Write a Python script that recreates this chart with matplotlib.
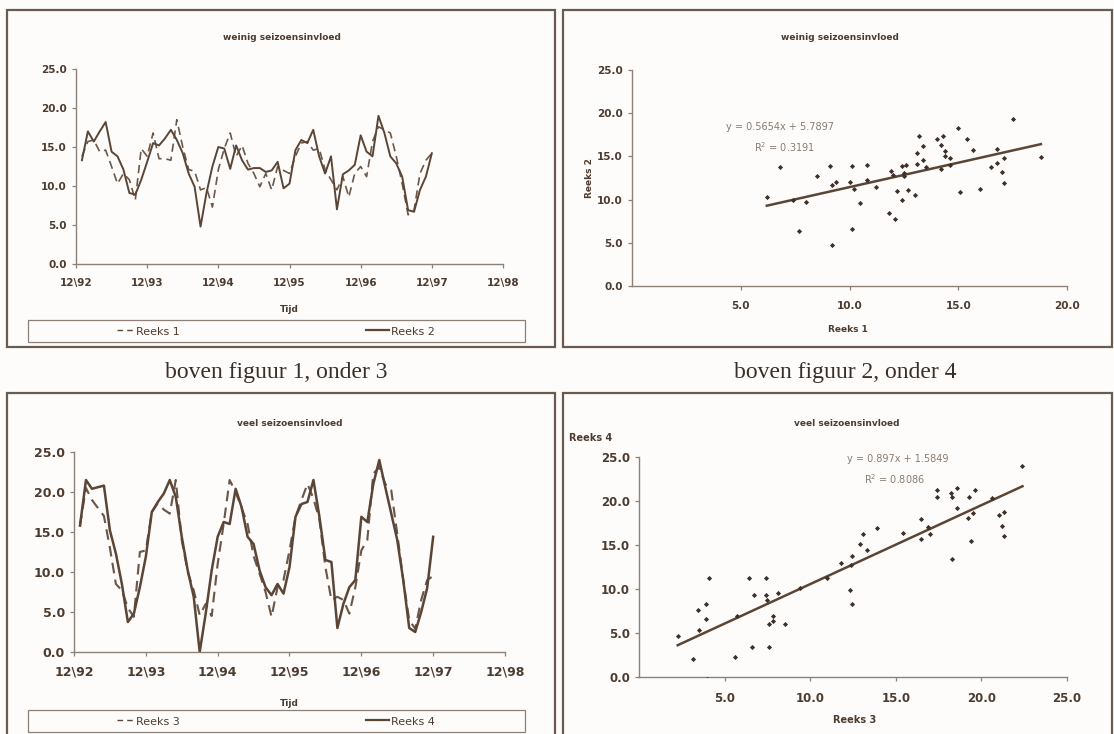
import numpy as np
import matplotlib
matplotlib.use("Agg")
import matplotlib.pyplot as plt
from matplotlib.patches import Rectangle
from matplotlib.lines import Line2D

# ---------------- data ----------------
tick_labels = ["12\\92", "12\\93", "12\\94", "12\\95", "12\\96", "12\\97", "12\\98"]

reeks1 = [13.8, 15.7, 15.9, 14.4, 14.6, 12.5, 10.3, 11.6, 10.8, 8.2,
          14.8, 13.8, 16.8, 13.5, 13.5, 13.3, 18.5, 15.0, 12.1, 11.9,
          9.5, 9.8, 7.3, 12.1, 14.8, 16.8, 13.8, 15.2, 12.9, 11.6,
          9.9, 11.6, 9.5, 12.5, 12.0, 11.6, 13.8, 15.5, 15.7, 14.6,
          14.8, 12.1, 10.8, 9.5, 11.2, 8.6, 11.6, 12.5, 11.2, 15.7,
          17.6, 17.2, 16.8, 13.8, 10.3, 6.3, 6.9, 11.6, 13.3, 14.2]
reeks2 = [13.3, 17.0, 15.7, 17.0, 18.2, 14.4, 13.8, 12.1, 9.1, 8.9,
          10.8, 13.1, 15.5, 15.2, 16.1, 17.2, 15.9, 14.2, 11.6, 9.9,
          4.8, 9.1, 12.5, 15.0, 14.8, 12.2, 15.2, 13.3, 12.1, 12.3,
          12.3, 11.8, 12.0, 13.1, 9.7, 10.3, 14.6, 15.9, 15.5, 17.2,
          13.8, 11.6, 13.8, 7.0, 11.5, 12.0, 12.7, 16.5, 14.4, 13.8,
          19.0, 16.8, 13.8, 12.9, 11.2, 6.9, 6.7, 9.5, 11.2, 14.2]
reeks3 = [15.8, 20.5, 19.0, 18.0, 17.0, 13.0, 8.5, 7.7, 5.5, 4.4,
          12.5, 12.7, 17.5, 18.6, 17.8, 17.3, 21.5, 14.0, 10.0, 7.7,
          4.6, 6.0, 4.5, 11.0, 16.0, 21.5, 20.0, 18.0, 16.0, 12.0,
          9.8, 7.5, 4.4, 8.1, 9.0, 12.7, 16.9, 19.0, 21.0, 19.2,
          16.5, 10.6, 6.5, 6.9, 6.5, 4.8, 8.1, 12.7, 14.0, 22.3,
          23.1, 21.0, 20.2, 14.8, 9.0, 4.0, 2.9, 6.5, 9.0, 9.5]
reeks4 = [15.8, 21.5, 20.4, 20.6, 20.8, 15.2, 12.3, 8.5, 3.75, 4.8,
          8.1, 11.9, 17.5, 18.75, 19.8, 21.5, 19.4, 14.4, 10.2, 6.9,
          0.0, 4.8, 10.2, 14.4, 16.25, 16.0, 20.4, 18.1, 14.4, 13.5,
          10.2, 8.1, 7.1, 8.5, 7.3, 10.6, 16.9, 18.5, 18.75, 21.5,
          16.9, 11.5, 11.25, 3.0, 6.0, 8.1, 9.0, 16.9, 16.25, 21.0,
          24.0, 20.6, 17.3, 14.0, 9.0, 3.0, 2.5, 5.0, 8.0, 14.4]

scat1_x = [6.2, 6.8, 7.4, 7.7, 8.0, 8.5, 9.1, 9.2, 9.2, 9.4, 10.0, 10.1, 10.1, 10.2, 10.5,
           10.8, 10.8, 11.2, 11.8, 11.9, 12.0, 12.1, 12.2, 12.4, 12.4, 12.5, 12.5, 12.6,
           12.7, 13.0, 13.1, 13.1, 13.2, 13.4, 13.4, 13.5, 14.0, 14.2, 14.2, 14.3, 14.4,
           14.4, 14.6, 14.6, 15.0, 15.1, 15.4, 15.7, 16.0, 16.5, 16.8, 16.8, 17.0, 17.1,
           17.1, 17.5, 18.8]
scat1_y = [10.3, 13.8, 9.9, 6.4, 9.7, 12.7, 13.9, 11.7, 4.7, 12.0, 12.0, 13.9, 6.6, 11.2, 9.6,
           12.3, 14.0, 11.5, 8.5, 13.3, 12.9, 7.7, 11.0, 13.9, 10.0, 13.1, 12.7, 14.0,
           11.1, 10.5, 15.4, 14.1, 17.4, 16.2, 14.6, 13.8, 17.0, 16.3, 13.5, 17.4, 15.6,
           15.1, 14.0, 14.8, 18.3, 10.9, 17.0, 15.7, 11.2, 13.8, 15.9, 14.2, 13.2, 11.9,
           14.8, 19.3, 14.9]
scat2_x = [2.26, 3.15, 3.45, 3.5, 3.9, 3.9, 4.0, 4.1, 5.6, 5.7, 6.4, 6.6, 6.7, 7.4, 7.4, 7.5,
           7.6, 7.6, 7.8, 7.85, 8.1, 8.5, 9.4, 11.0, 11.8, 12.3, 12.4, 12.45, 12.45, 12.9,
           13.1, 13.3, 13.9, 15.4, 16.5, 16.5, 16.9, 17.0, 17.4, 17.4, 18.2, 18.3, 18.3,
           18.55, 18.6, 19.2, 19.3, 19.4, 19.5, 19.6, 20.6, 21.0, 21.2, 21.3, 21.3, 22.4]
scat2_y = [4.7, 2.05, 7.65, 5.3, 8.3, 6.6, -0.2, 11.2, 2.3, 6.9, 11.2, 3.4, 9.3, 9.3, 11.2, 8.8,
           6.0, 3.4, 6.9, 6.4, 9.6, 6.0, 10.1, 11.3, 12.9, 9.85, 12.7, 8.3, 13.8, 15.1,
           16.2, 14.4, 16.9, 16.4, 18.0, 15.7, 17.1, 16.3, 21.3, 20.5, 20.9, 20.4, 13.4,
           21.5, 19.2, 18.1, 20.4, 15.5, 18.6, 21.2, 20.3, 18.4, 17.2, 18.8, 16.0, 24.0]

fit1 = (0.5654, 5.7897)
fit2 = (0.897, 1.5849)
fit1_text = ("y = 0.5654x + 5.7897", "R$^2$ = 0.3191")
fit2_text = ("y = 0.897x + 1.5849", "R$^2$ = 0.8086")

# ---------------- style ----------------
W, H = 1114, 734
INK = "#5a4536"
TXT = "#4d3b2f"
GRAY = "#8a7b70"
plt.rcParams["font.family"] = ["DejaVu Sans"]

fig = plt.figure(figsize=(W / 100, H / 100), dpi=100)
fig.patch.set_facecolor("#fdfcfa")


def rect(x0, y0, x1, y1):
    return [x0 / W, 1 - y1 / H, (x1 - x0) / W, (y1 - y0) / H]


def fx(x):
    return x / W


def fy(y):
    return 1 - y / H


def box(x0, y0, x1, y1, lw=1.6, color="#6b5a50"):
    fig.add_artist(Rectangle((fx(x0), fy(y1)), (x1 - x0) / W, (y1 - y0) / H,
                             transform=fig.transFigure, fill=False,
                             edgecolor=color, linewidth=lw))


def style_axes(ax, fs, weight="bold"):
    for s in ("top", "right"):
        ax.spines[s].set_visible(False)
    for s in ("left", "bottom"):
        ax.spines[s].set_color("#8c8078")
        ax.spines[s].set_linewidth(1.0)
    ax.tick_params(axis="both", colors="#8c8078", labelcolor=TXT, labelsize=fs,
                   length=3, width=0.9, direction="out")
    for lab in ax.get_xticklabels() + ax.get_yticklabels():
        lab.set_fontweight(weight)
    ax.set_facecolor("none")


# chart frames
box(7, 10, 555, 347)
box(563, 10, 1112, 347)
box(7, 393, 555, 745)
box(563, 393, 1112, 745)

# captions
fig.text(fx(276), fy(372), "boven figuur 1, onder 3", family="Liberation Serif",
         fontsize=17, color="#3a2f28", ha="center", va="center")
fig.text(fx(845), fy(372), "boven figuur 2, onder 4", family="Liberation Serif",
         fontsize=17, color="#3a2f28", ha="center", va="center")

yticks = [0, 5, 10, 15, 20, 25]
ylabels = ["%.1f" % v for v in yticks]


def timeseries(axrect, sA, sB, title, title_y, title_x, tijd_y, leg_y, nameA, nameB, fs, lw,
               weight):
    ax = fig.add_axes(rect(*axrect))
    months = np.arange(1, len(sA) + 1)
    ax.plot(months, sA, color=INK, lw=lw * 0.85, ls=(0, (5, 3)), alpha=0.9)
    ax.plot(months, sB, color=INK, lw=lw)
    ax.set_xlim(0, 72)
    ax.set_ylim(0, 25)
    ax.set_xticks(np.arange(0, 73, 12))
    ax.set_xticklabels(tick_labels)
    ax.set_yticks(yticks)
    ax.set_yticklabels(ylabels)
    style_axes(ax, fs, weight)
    ax.tick_params(axis="x", pad=7)
    fig.text(fx(title_x), fy(title_y), title, fontsize=6.5, fontweight="bold",
             color=TXT, ha="center", va="center")
    fig.text(fx(axrect[0] + (axrect[2] - axrect[0]) * 0.5), fy(tijd_y), "Tijd", fontsize=6.5,
             fontweight="bold", color=TXT, ha="center", va="center")
    # legend box
    box(28, leg_y - 11, 525, leg_y + 11, lw=0.9, color="#8c8078")
    fig.add_artist(Line2D([fx(117), fx(133)], [fy(leg_y - 1), fy(leg_y - 1)],
                          transform=fig.transFigure, color=INK, lw=1.0, ls=(0, (4, 3))))
    fig.text(fx(136), fy(leg_y + 1), nameA, fontsize=8, color=TXT, va="center")
    fig.add_artist(Line2D([fx(366), fx(389)], [fy(leg_y - 1), fy(leg_y - 1)],
                          transform=fig.transFigure, color=INK, lw=1.6))
    fig.text(fx(391), fy(leg_y + 1), nameB, fontsize=8, color=TXT, va="center")
    return ax


timeseries((76, 69, 503, 264), reeks1, reeks2, "weinig seizoensinvloed", 38, 282, 310, 331,
           "Reeks 1", "Reeks 2", 7.5, 1.4, "semibold")
timeseries((74, 452, 505, 652), reeks3, reeks4, "veel seizoensinvloed", 424, 290, 703, 721,
           "Reeks 3", "Reeks 4", 9, 1.8, "bold")


def scatter(axrect, xs, ys, fit, ftext, xmax, xticks, title, title_x, title_y, fs, txtpos):
    ax = fig.add_axes(rect(*axrect))
    ax.scatter(xs, ys, s=7, marker="D", color="#3e3029", zorder=3, linewidths=0)
    x0, x1 = min(xs), max(xs)
    xx = np.array([x0, x1])
    ax.plot(xx, fit[0] * xx + fit[1], color=INK, lw=1.8)
    ax.set_xlim(0, xmax)
    ax.set_ylim(0, 25)
    ax.set_xticks(xticks)
    ax.set_xticklabels(["%.1f" % v for v in xticks])
    ax.set_yticks(yticks)
    ax.set_yticklabels(ylabels)
    style_axes(ax, fs)
    ax.tick_params(axis="x", pad=8)
    ax.text(txtpos[0], txtpos[1], ftext[0], fontsize=7, color=GRAY, ha="center", va="center")
    ax.text(txtpos[2], txtpos[3], ftext[1], fontsize=7, color=GRAY, ha="center", va="center")
    fig.text(fx(title_x), fy(title_y), title, fontsize=6.5, fontweight="bold",
             color=TXT, ha="center", va="center")
    return ax


scatter((632, 70, 1067, 286), scat1_x, scat1_y, fit1, fit1_text, 20, [5, 10, 15, 20],
        "weinig seizoensinvloed", 840, 37, 7.5, (6.8, 18.4, 7.0, 16.1))
fig.text(fx(589), fy(178), "Reeks 2", fontsize=6.5, fontweight="bold", color=TXT,
         rotation=90, ha="center", va="center")
fig.text(fx(848), fy(330), "Reeks 1", fontsize=6.5, fontweight="bold", color=TXT,
         ha="center", va="center")

scatter((639, 457, 1067, 677), scat2_x, scat2_y, fit2, fit2_text, 25, [5, 10, 15, 20, 25],
        "veel seizoensinvloed", 847, 424, 8.5, (15.1, 24.8, 14.9, 22.5))
fig.text(fx(569), fy(438), "Reeks 4", fontsize=7, fontweight="bold", color=TXT,
         ha="left", va="center")
fig.text(fx(855), fy(720), "Reeks 3", fontsize=7, fontweight="bold", color=TXT,
         ha="center", va="center")

fig.savefig("out.png", dpi=100, facecolor=fig.get_facecolor())
